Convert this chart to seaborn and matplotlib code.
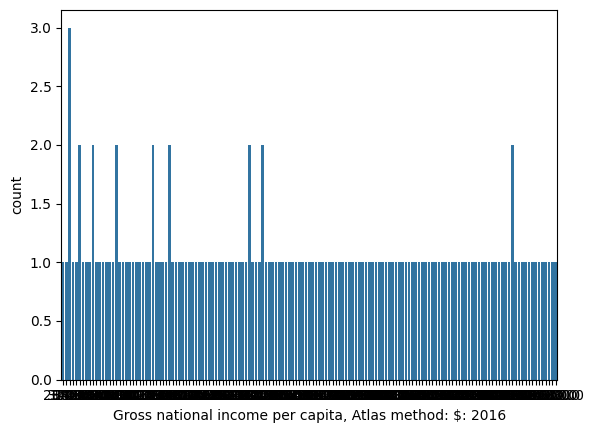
import pandas as pd
import matplotlib
matplotlib.use("Agg")
import matplotlib.pyplot as plt
import seaborn as sns

# unique GNI per capita values (Atlas method, US$, 2016), sorted
gni_values = [
    280, 320, 370, 380, 400, 420, 460, 490, 510, 550,
    590, 620, 640, 660, 700, 730, 760, 790, 820, 850,
    880, 940, 990, 1040, 1100, 1160, 1220, 1280, 1320, 1380,
    1430, 1500, 1570, 1640, 1680, 1760, 1820, 1900, 1960, 2040,
    2100, 2180, 2250, 2330, 2450, 2530, 2610, 2680, 2760, 2850,
    2920, 3020, 3110, 3210, 3290, 3380, 3470, 3550, 3640, 3730,
    3840, 3950, 4060, 4160, 4280, 4390, 4490, 4580, 4680, 4760,
    4880, 5000, 5110, 5280, 5400, 5560, 5680, 5820, 5960, 6110,
    6300, 6480, 6590, 6750, 6900, 7050, 7290, 7480, 7690, 7880,
    8070, 8260, 8480, 8640, 8860, 9070, 9380, 9650, 9880, 10180,
    10430, 10750, 11020, 11380, 11730, 12060, 12380, 12680, 12970, 13210,
    13630, 14100, 14660, 15170, 15760, 16310, 17200, 17880, 18620, 19450,
    20120, 21210, 22230, 23680, 24890, 26150, 27600, 28380, 30030, 32860,
    34880, 36170, 38000, 39920, 40950, 41860, 42870, 43660, 45350, 46310,
    47130, 49410, 51760, 53840, 56730, 61410, 65680, 76660, 82330,
]
# values shared by more than one country
repeated_values = {370: 3, 420: 2, 550: 2, 760: 2, 1280: 2,
                   1570: 2, 3470: 2, 3840: 2, 41860: 2}

rows = []
for v in gni_values:
    rows += [float(v)] * repeated_values.get(v, 1)

df = pd.DataFrame({"Gross national income per capita, Atlas method: $: 2016": rows})

fig = plt.figure(figsize=(5.94, 4.32), dpi=100)
ax = fig.add_axes([61.3 / 594, (432 - 379.6) / 432, 496 / 594, 369.6 / 432])
sns.countplot(data=df, x="Gross national income per capita, Atlas method: $: 2016", ax=ax)
fig.savefig("out.png", dpi=100)
